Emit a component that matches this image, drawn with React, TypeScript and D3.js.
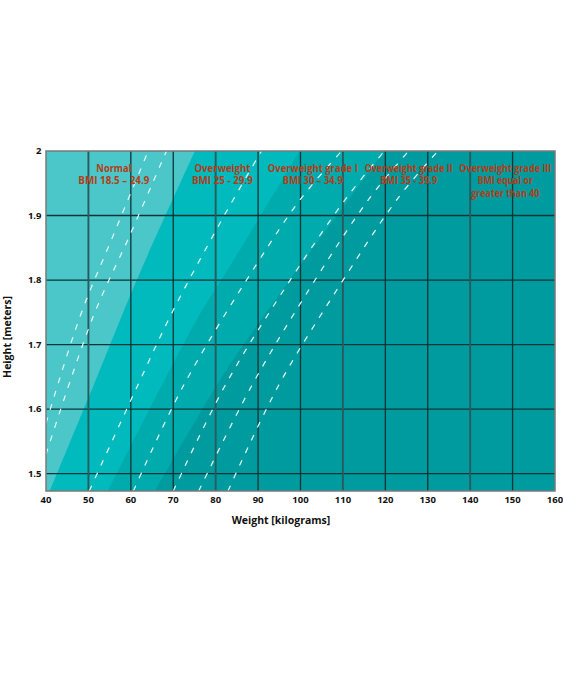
import * as d3 from "d3";

const weightTicks = [40, 50, 60, 70, 80, 90, 100, 110, 120, 130, 140, 150, 160];
const heightTicks = [1.5, 1.6, 1.7, 1.8, 1.9, 2];
const heightTickLabels = ["1.5", "1.6", "1.7", "1.8", "1.9", "2"];

// band edges, [weight, height]
const underweightEdge = [[40.9, 1.473], [51.1, 1.635], [61.4, 1.8], [75.1, 2]];
const normalEdge = [[54.6, 1.473], [75.5, 1.738], [83.3, 1.821], [99.8, 2]];
const overweightEdge = [[65.7, 1.473], [81.0, 1.645], [89.9, 1.731], [119.8, 2]];
const bandEdges = [overweightEdge, normalEdge, underweightEdge];
const bandColors = ["#00abae", "#00babd", "#4bc7ca"];
const baseColor = "#009b9e";

// dashed guide lines, [weight, height]
const guideA = [[40, 1.578], [48.0, 1.743], [55.9, 1.87], [64.1, 2]];
const guideB = [[40, 1.53], [51.1, 1.743], [59.8, 1.87], [68.4, 2]];
const guideC = [[50.2, 1.473], [61.5, 1.635], [69.6, 1.748], [82.1, 1.901], [90.8, 2]];
const guideD = [[60.6, 1.473], [72.3, 1.635], [89.6, 1.824], [100.2, 1.927], [109.7, 2]];
const guideE = [[70.0, 1.473], [82.1, 1.635], [95.9, 1.783], [110.8, 1.927], [119.8, 2]];
const guideF = [[76.0, 1.473], [88.4, 1.635], [101.8, 1.783], [116.3, 1.927], [125.5, 2]];
const guideG = [[82.9, 1.473], [94.7, 1.635], [108.4, 1.783], [123.0, 1.927], [132.4, 2]];
const guides = [guideA, guideB, guideC, guideD, guideE, guideF, guideG];

const labelLines = [
    ["Normal", "BMI 18.5 – 24.9"],
    ["Overweight", "BMI 25 - 29.9"],
    ["Overweight grade I", "BMI 30 – 34.9"],
    ["Overweight grade II", "BMI 35 - 39.9"],
    ["Overweight grade III", "BMI equal or", "greater than 40"],
];
const labelWeights = [56.0, 81.6, 102.9, 125.5, 148.3];
const labelWidths = [
    [35, 71],
    [56, 61],
    [90, 60],
    [88, 57],
    [92, 55, 68],
];

const App = () => {
    const width = 563;
    const height = 675;
    const left = 46;
    const right = 555;
    const top = 151;
    const bottom = 491;

    const x = d3.scaleLinear().domain([40, 160]).range([left, right]);
    const y = d3.scaleLinear().domain([1.473, 2]).range([bottom, top]);

    const bandArea = d3
        .area()
        .y((d) => y(d[1]))
        .x0(x(30))
        .x1((d) => x(d[0]))
        .curve(d3.curveCatmullRom);

    const guideLine = d3
        .line()
        .x((d) => x(d[0]))
        .y((d) => y(d[1]))
        .curve(d3.curveCatmullRom);

    const axisFont = "'Open Sans', 'DejaVu Sans', sans-serif";
    const gridColor = "#0c3436";

    return (
        <svg
            width={width}
            height={height}
            style={{ position: "absolute", left: 0, top: 0, background: "#fff" }}
        >
            <defs>
                <clipPath id="plot-clip">
                    <rect x={left} y={top} width={right - left} height={bottom - top} />
                </clipPath>
            </defs>
            <g clipPath="url(#plot-clip)">
                <rect x={left} y={top} width={right - left} height={bottom - top} fill={baseColor} />
                {bandEdges.map((edge, i) => (
                    <path key={`band-${i}`} d={bandArea(edge)} fill={bandColors[i]} />
                ))}
                {heightTicks
                    .filter((h) => h < 2)
                    .map((h) => (
                        <line
                            key={`hg-${h}`}
                            x1={left}
                            x2={right}
                            y1={y(h)}
                            y2={y(h)}
                            stroke={gridColor}
                            strokeWidth={1.3}
                        />
                    ))}
                {weightTicks
                    .filter((w) => w > 40 && w < 160)
                    .map((w) => {
                        const heavy = (w - 50) % 30 === 0;
                        return (
                            <line
                                key={`wg-${w}`}
                                x1={x(w)}
                                x2={x(w)}
                                y1={top}
                                y2={bottom}
                                stroke={heavy ? "#275b5d" : gridColor}
                                strokeWidth={heavy ? 1.9 : 1.3}
                            />
                        );
                    })}
                {guides.map((g, i) => (
                    <path
                        key={`guide-${i}`}
                        d={guideLine(g)}
                        fill="none"
                        stroke="#e8fbfb"
                        strokeWidth={1.2}
                        strokeDasharray="6 8"
                    />
                ))}
            </g>
            <rect
                x={left}
                y={top}
                width={right - left}
                height={bottom - top}
                fill="none"
                stroke="#7a7a7a"
                strokeWidth={1.5}
            />

            {labelLines.map((lines, i) =>
                lines.map((t, j) => (
                    <text
                        key={`lab-${i}-${j}`}
                        x={x(labelWeights[i])}
                        y={168.3 + j * 12.4}
                        dy="0.35em"
                        textAnchor="middle"
                        fontFamily={axisFont}
                        fontWeight={700}
                        fontSize={10}
                        fill="#b53c17"
                        textLength={labelWidths[i][j]}
                        lengthAdjust="spacingAndGlyphs"
                    >
                        {t}
                    </text>
                ))
            )}

            {weightTicks.map((w) => (
                <text
                    key={`wt-${w}`}
                    x={x(w)}
                    y={503}
                    textAnchor="middle"
                    fontFamily={axisFont}
                    fontWeight={700}
                    fontSize={9.5}
                    fill="#111"
                >
                    {w}
                </text>
            ))}
            {heightTicks.map((h, i) => (
                <text
                    key={`ht-${h}`}
                    x={41.5}
                    y={y(h)}
                    dy="0.35em"
                    textAnchor="end"
                    fontFamily={axisFont}
                    fontWeight={700}
                    fontSize={9.5}
                    fill="#111"
                >
                    {heightTickLabels[i]}
                </text>
            ))}
            <text
                x={281}
                y={524}
                textAnchor="middle"
                fontFamily={axisFont}
                fontWeight={700}
                fontSize={10.5}
                fill="#111"
            >
                Weight [kilograms]
            </text>
            <text
                transform={`translate(11, 337) rotate(-90)`}
                textAnchor="middle"
                fontFamily={axisFont}
                fontWeight={700}
                fontSize={10.5}
                fill="#111"
            >
                Height [meters]
            </text>
        </svg>
    );
};

export default App;
